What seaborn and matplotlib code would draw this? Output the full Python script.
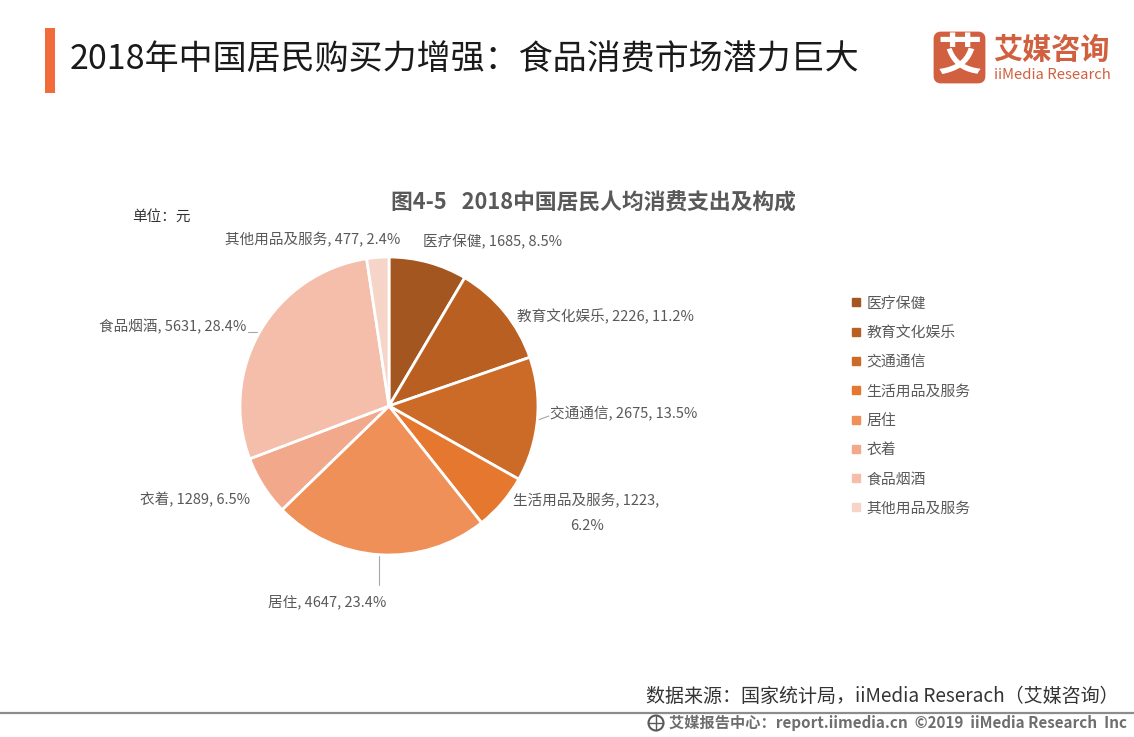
import matplotlib
matplotlib.use('Agg')
import matplotlib.pyplot as plt
from matplotlib.lines import Line2D
from matplotlib.patches import FancyBboxPatch, Rectangle, Circle
import seaborn as sns

categories = ['医疗保健', '教育文化娱乐', '交通通信', '生活用品及服务', '居住', '衣着', '食品烟酒', '其他用品及服务']
values = [1685, 2226, 2675, 1223, 4647, 1289, 5631, 477]
percents = ['8.5%', '11.2%', '13.5%', '6.2%', '23.4%', '6.5%', '28.4%', '2.4%']
colors = ['#A3561F', '#BA5F22', '#CC6A27', '#E5772F', '#EF9058', '#F2A88B', '#F4BEAA', '#F6D4C8']

W, H = 1134, 737
GRAY = '#595959'
ORANGE = '#D0603F'

sns.set_theme(style='white')
plt.rcParams['font.family'] = ['Noto Sans CJK SC', 'DejaVu Sans']

fig = plt.figure(figsize=(W / 100, H / 100), dpi=100, facecolor='white')

# overlay in pixel coordinates for the decoration and texts
bg = fig.add_axes([0, 0, 1, 1])
bg.set_xlim(0, W)
bg.set_ylim(H, 0)
bg.axis('off')

# pie, centre (389, 406), radius 149
cx, cy, r = 389, 406, 149
pie_ax = fig.add_axes([(cx - r) / W, 1 - (cy + r) / H, 2 * r / W, 2 * r / H])
wedges, _ = pie_ax.pie(values, colors=colors, startangle=90, counterclock=False, radius=1,
                       wedgeprops={'edgecolor': 'white', 'linewidth': 2})
pie_ax.set_xlim(-1, 1)
pie_ax.set_ylim(-1, 1)

# header
bg.add_patch(Rectangle((45, 28), 10, 65, color='#F26B3A', lw=0))
bg.text(70, 59, '2018年中国居民购买力增强：食品消费市场潜力巨大', fontsize=24.5, color='#1A1A1A', va='center', ha='left')

# logo
bg.add_patch(FancyBboxPatch((935, 33), 49, 49, boxstyle='round,pad=0,rounding_size=6', color=ORANGE, lw=2))
bg.text(959.5, 57, '艾', fontsize=32, color='white', weight='bold', ha='center', va='center')
bg.text(993, 50, '艾媒咨询', fontsize=21, color=ORANGE, weight='bold', ha='left', va='center')
bg.text(994, 75, 'iiMedia Research', fontsize=10.7, color=ORANGE, ha='left', va='center', weight='medium')

# chart title and unit
bg.text(593, 203, '图4-5   2018中国居民人均消费支出及构成', fontsize=15.7, color=GRAY, weight='bold', ha='center', va='center')
bg.text(132, 217, '单位：元', fontsize=10.5, color='#333333', ha='left', va='center')

# pie labels
label_pos = [
    (423, 242, 'left'),
    (517, 317, 'left'),
    (550, 414, 'left'),
    (513, 501, 'left'),
    (268, 602, 'left'),
    (140, 500, 'left'),
    (99, 327, 'left'),
    (225, 240, 'left'),
]
for name, val, pct, (x, y, ha) in zip(categories, values, percents, label_pos):
    text = f'{name}, {val}, {pct}'
    if name == '生活用品及服务':
        text = f'{name}, {val},'
        bg.text(587, 526, pct, fontsize=10.5, color=GRAY, ha='center', va='center')
    bg.text(x, y, text, fontsize=10.5, color=GRAY, ha=ha, va='center')

# leader lines
bg.plot([248, 260], [332, 332], color='#A6A6A6', lw=0.8)
bg.plot([538, 549], [420, 416], color='#A6A6A6', lw=0.8)
bg.plot([379, 379], [556, 585], color='#A6A6A6', lw=0.8)

# legend
handles = [Line2D([], [], linestyle='none', marker='s', markersize=5.5, color=c) for c in colors]
leg = pie_ax.legend(handles, categories, loc='upper left', bbox_to_anchor=(850 / W, 1 - 296.5 / H),
                    bbox_transform=fig.transFigure, frameon=False, fontsize=10.7, labelspacing=1.03,
                    handlelength=0.8, handletextpad=0.3, borderpad=0, borderaxespad=0)
for t in leg.get_texts():
    t.set_color(GRAY)

# footer
bg.text(646, 696, '数据来源：国家统计局，iiMedia Reserach（艾媒咨询）', fontsize=13.7, color='#333333', ha='left', va='center')
bg.plot([0, W], [712.5, 712.5], color='#8C8C8C', lw=1.6)
bg.add_patch(Circle((656, 723), 7.5, fill=False, ec='#595959', lw=1.5))
bg.plot([649, 663], [723, 723], color='#595959', lw=1)
bg.plot([656, 656], [716, 730], color='#595959', lw=1)
bg.text(669, 723, '艾媒报告中心：report.iimedia.cn  ©2019  iiMedia Research  Inc', fontsize=10.95, color='#6E6E6E',
        weight='bold', ha='left', va='center')

fig.savefig('out.png', dpi=100, facecolor='white')
